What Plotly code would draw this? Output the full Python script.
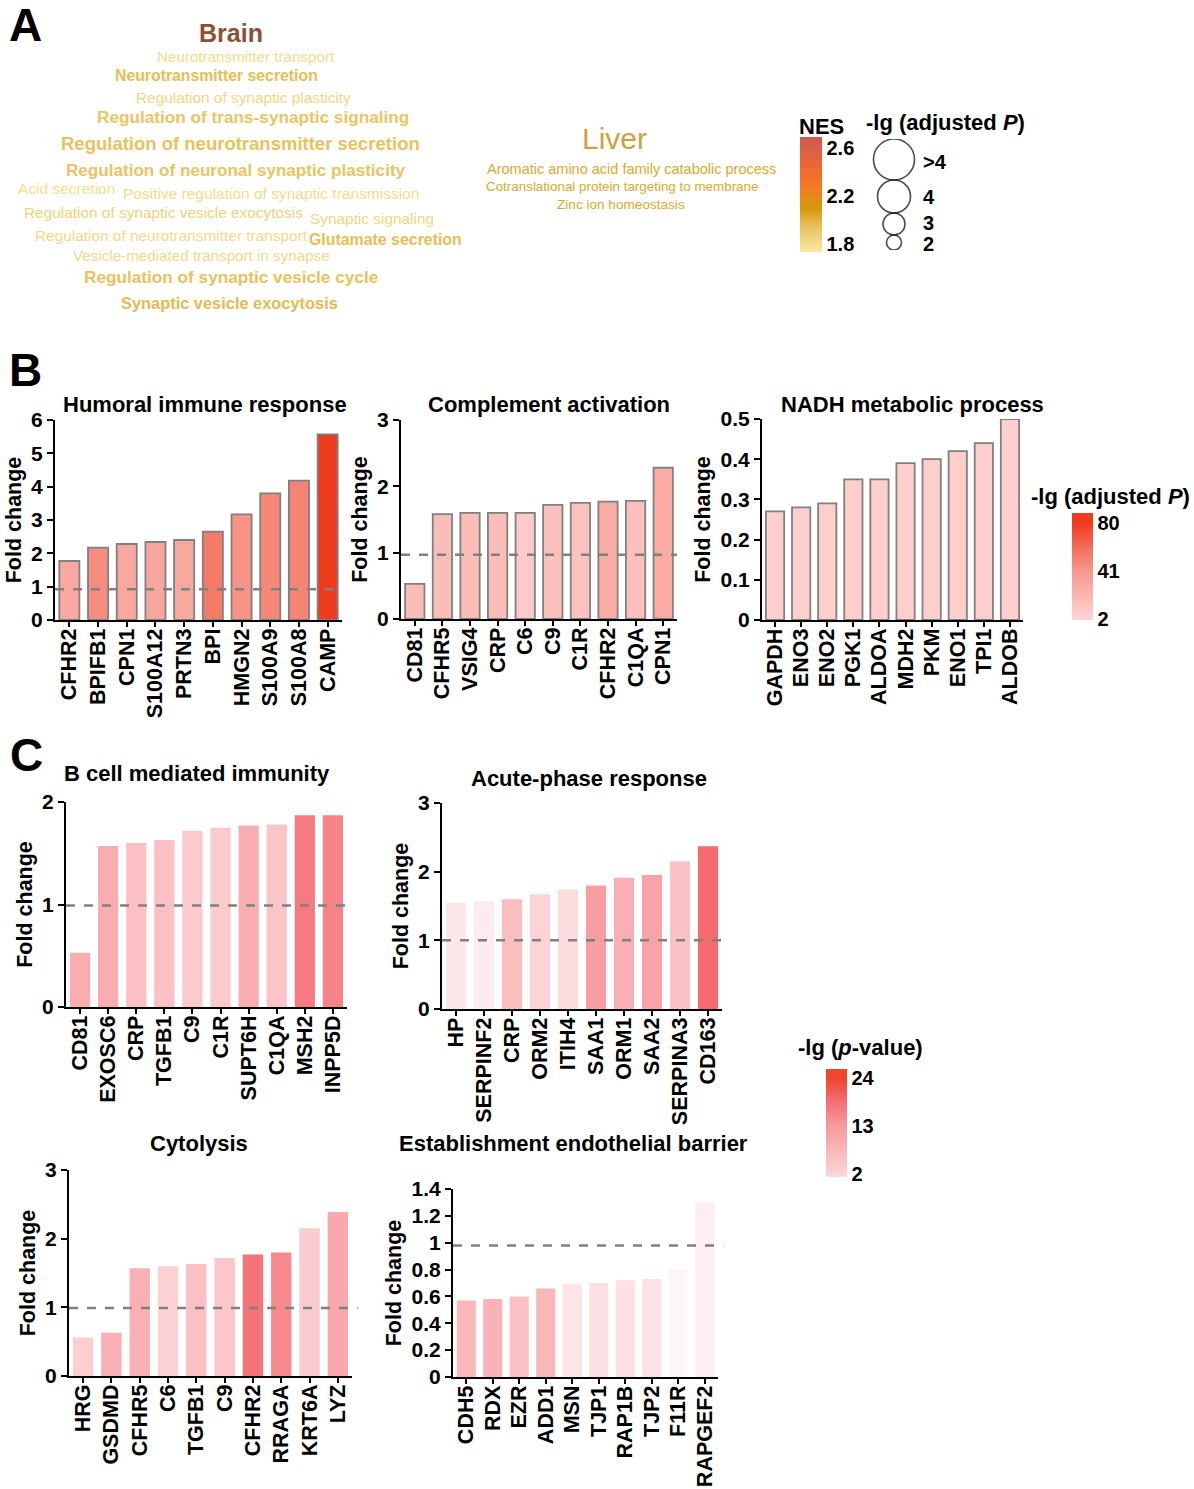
import plotly.graph_objects as go
from plotly.colors import sample_colorscale

W, H = 1194, 1489

# ---------------- data ----------------
brain_terms = [
    "Neurotransmitter transport", "Neurotransmitter secretion",
    "Regulation of synaptic plasticity", "Regulation of trans-synaptic signaling",
    "Regulation of neurotransmitter secretion", "Regulation of neuronal synaptic plasticity",
    "Acid secretion", "Positive regulation of synaptic transmission",
    "Regulation of synaptic vesicle exocytosis", "Synaptic signaling",
    "Regulation of neurotransmitter transport", "Glutamate secretion",
    "Vesicle-mediated transport in synapse", "Regulation of synaptic vesicle cycle",
    "Synaptic vesicle exocytosis",
]
brain_nes = [1.80, 1.96, 1.83, 1.92, 1.94, 1.93, 1.79, 1.80, 1.85, 1.83, 1.81, 1.96, 1.81, 1.94, 1.97]
liver_terms = ["Aromatic amino acid family catabolic process",
               "Cotranslational protein targeting to membrane",
               "Zinc ion homeostasis"]
liver_nes = [2.03, 2.03, 2.03]
nes_ticks = [1.8, 2.2, 2.6]
bubble_labels = [">4", "4", "3", "2"]

b1_genes = ["CFHR2", "BPIFB1", "CPN1", "S100A12", "PRTN3", "BPI", "HMGN2", "S100A9", "S100A8", "CAMP"]
b1_fc = [1.77, 2.17, 2.28, 2.34, 2.40, 2.65, 3.17, 3.80, 4.18, 5.57]
b1_sig = [30, 45, 30, 31, 30, 55, 42, 48, 50, 80]

b2_genes = ["CD81", "CFHR5", "VSIG4", "CRP", "C6", "C9", "C1R", "CFHR2", "C1QA", "CPN1"]
b2_fc = [0.53, 1.58, 1.60, 1.60, 1.60, 1.72, 1.75, 1.77, 1.78, 2.28]
b2_sig = [17, 17, 17, 17, 9, 15, 14, 27, 15, 28]

b3_genes = ["GAPDH", "ENO3", "ENO2", "PGK1", "ALDOA", "MDH2", "PKM", "ENO1", "TPI1", "ALDOB"]
b3_fc = [0.27, 0.28, 0.29, 0.35, 0.35, 0.39, 0.40, 0.42, 0.44, 0.50]
b3_sig = [6, 6, 6, 6, 6, 6, 6, 6, 6, 5]

c1_genes = ["CD81", "EXOSC6", "CRP", "TGFB1", "C9", "C1R", "SUPT6H", "C1QA", "MSH2", "INPP5D"]
c1_fc = [0.53, 1.57, 1.60, 1.63, 1.72, 1.75, 1.77, 1.78, 1.87, 1.87]
c1_sig = [9, 9, 6, 6, 4, 4, 9, 5, 17, 16]

c2_genes = ["HP", "SERPINF2", "CRP", "ORM2", "ITIH4", "SAA1", "ORM1", "SAA2", "SERPINA3", "CD163"]
c2_fc = [1.55, 1.57, 1.60, 1.67, 1.74, 1.80, 1.91, 1.95, 2.15, 2.37]
c2_sig = [0.8, 0.6, 6.5, 2, 1.5, 12, 8.5, 11, 5.5, 19]

c3_genes = ["HRG", "GSDMD", "CFHR5", "C6", "TGFB1", "C9", "CFHR2", "RRAGA", "KRT6A", "LYZ"]
c3_fc = [0.56, 0.63, 1.57, 1.60, 1.63, 1.72, 1.77, 1.80, 2.15, 2.39]
c3_sig = [3, 8.5, 8.5, 2.5, 6, 4.5, 18, 15, 3.5, 10]

c4_genes = ["CDH5", "RDX", "EZR", "ADD1", "MSN", "TJP1", "RAP1B", "TJP2", "F11R", "RAPGEF2"]
c4_fc = [0.57, 0.58, 0.60, 0.66, 0.69, 0.70, 0.72, 0.73, 0.80, 1.30]
c4_sig = [7.5, 8, 6, 7.5, 1, 1.2, 1.2, 1.1, 0.1, 0.5]

ref_levels = [0.92, 0.97, None, 0.99, 1.0, 0.99, 0.98]
b_ticks = [2, 41, 80]
c_ticks = [2, 13, 24]

# ---------------- helpers ----------------
def px(x):
    return x / W

def py(y):
    return 1 - y / H

def hex2rgb(h):
    h = h.lstrip("#")
    return tuple(int(h[i:i + 2], 16) for i in (0, 2, 4))

def interp(stops, v):
    if v <= stops[0][0]:
        return "rgb(%d,%d,%d)" % hex2rgb(stops[0][1])
    if v >= stops[-1][0]:
        return "rgb(%d,%d,%d)" % hex2rgb(stops[-1][1])
    for (v0, c0), (v1, c1) in zip(stops, stops[1:]):
        if v0 <= v <= v1:
            t = (v - v0) / (v1 - v0)
            a, b = hex2rgb(c0), hex2rgb(c1)
            return "rgb(%d,%d,%d)" % tuple(round(a[k] + (b[k] - a[k]) * t) for k in range(3))

def scale_for(stops, vmin, vmax):
    pts = [vmin] + [v for v, _ in stops if vmin < v < vmax] + [vmax]
    return [[(p - vmin) / (vmax - vmin), interp(stops, p)] for p in pts]

B_STOPS = [(2, "#FDD5D5"), (15, "#FBC0BC"), (30, "#F9A8A0"), (41, "#F7958A"), (55, "#F47A68"), (80, "#F03C1E")]
C_STOPS = [(0, "#FBF8FC"), (1, "#FCE4E7"), (2, "#FCD3D6"), (6, "#FAC0C3"), (9, "#F9ADB1"),
           (13, "#F7999D"), (18, "#F5747A"), (24, "#F0442C")]
NES_STOPS = [(1.73, "#FAE8A4"), (1.95, "#E8C05A"), (2.09, "#D4980E"), (2.25, "#EE8020"),
             (2.40, "#F46A30"), (2.69, "#CB5A52")]
NES_MIN, NES_MAX = 1.73, 2.69
nes_scale = scale_for(NES_STOPS, NES_MIN, NES_MAX)

FONT = "Liberation Sans, Arial, sans-serif"

fig = go.Figure()
annotations = []
shapes = []
layout = {}

# ---------------- bar charts ----------------
charts = [
    dict(g=b1_genes, v=b1_fc, s=b1_sig, stops=B_STOPS, lo=2, hi=80, ymax=6, dt=1, box=(55, 342, 420, 620),
         title="Humoral immune response", tpos=(205, 405), outline=True),
    dict(g=b2_genes, v=b2_fc, s=b2_sig, stops=B_STOPS, lo=2, hi=80, ymax=3, dt=1, box=(401, 677, 420, 619),
         title="Complement activation", tpos=(549, 405), outline=True),
    dict(g=b3_genes, v=b3_fc, s=b3_sig, stops=B_STOPS, lo=2, hi=80, ymax=0.5, dt=0.1, box=(762, 1023, 419, 620),
         title="NADH metabolic process", tpos=(912, 405), outline=True),
    dict(g=c1_genes, v=c1_fc, s=c1_sig, stops=C_STOPS, lo=0, hi=24, ymax=2, dt=1, box=(66, 347, 802, 1007),
         title="B cell mediated immunity", tpos=(197, 773), outline=False),
    dict(g=c2_genes, v=c2_fc, s=c2_sig, stops=C_STOPS, lo=0, hi=24, ymax=3, dt=1, box=(442, 722, 803, 1009),
         title="Acute-phase response", tpos=(589, 778), outline=False),
    dict(g=c3_genes, v=c3_fc, s=c3_sig, stops=C_STOPS, lo=0, hi=24, ymax=3, dt=1, box=(69, 352, 1170, 1376),
         title="Cytolysis", tpos=(199, 1143), outline=False),
    dict(g=c4_genes, v=c4_fc, s=c4_sig, stops=C_STOPS, lo=0, hi=24, ymax=1.4001, dt=0.2, box=(453, 718, 1189, 1377),
         title="Establishment endothelial barrier", tpos=(573, 1143), outline=False),
]

for i, ch in enumerate(charts, start=1):
    xr = "x" if i == 1 else f"x{i}"
    yr = "y" if i == 1 else f"y{i}"
    xa = "xaxis" if i == 1 else f"xaxis{i}"
    ya = "yaxis" if i == 1 else f"yaxis{i}"
    line = dict(color="#808080", width=1.8) if ch["outline"] else dict(width=0)
    fig.add_trace(go.Bar(
        x=ch["g"], y=ch["v"], xaxis=xr, yaxis=yr,
        width=0.7 if ch["outline"] else 0.72,
        marker=dict(color=ch["s"], colorscale=scale_for(ch["stops"], ch["lo"], ch["hi"]),
                    cmin=ch["lo"], cmax=ch["hi"], showscale=False, line=line),
        showlegend=False, hoverinfo="skip"))
    x0, x1, yt, yb = ch["box"]
    layout[xa] = dict(domain=[px(x0), px(x1)], anchor=yr, type="category", range=[-0.5, 9.5],
                      tickmode="linear", tick0=0, dtick=1, automargin=False,
                      tickangle=-90, ticks="outside", ticklen=5, tickwidth=2, tickcolor="black",
                      ticklabelstandoff=-7,
                      showline=True, linecolor="black", linewidth=2, showgrid=False, zeroline=False,
                      tickfont=dict(family=FONT, size=21.5, color="black", weight="bold"))
    layout[ya] = dict(domain=[py(yb), py(yt)], anchor=xr, range=[0, ch["ymax"]], dtick=ch["dt"], tick0=0,
                      automargin=False,
                      ticks="outside", ticklen=6, tickwidth=2, tickcolor="black",
                      showline=True, linecolor="black", linewidth=2, showgrid=False, zeroline=False,
                      tickfont=dict(family=FONT, size=21, color="black", weight="bold"),
                      title=dict(text="Fold change", standoff=4,
                                 font=dict(family=FONT, size=21.5, color="black", weight="bold")))
    ref = ref_levels[i - 1]
    if ref is not None:
        shapes.append(dict(type="line", xref=f"{xr} domain", yref=yr, x0=0, x1=1.0 if ch["outline"] else 1.02,
                           y0=ref, y1=ref, line=dict(color="#808080", width=2.5, dash="dash"), layer="above"))
    annotations.append(dict(text=ch["title"], x=px(ch["tpos"][0]), y=py(ch["tpos"][1]), xref="paper", yref="paper",
                            xanchor="center", yanchor="middle", showarrow=False,
                            font=dict(family=FONT, size=22, color="black", weight="bold")))

# ---------------- colorbars ----------------
B_CB = (1.0, 88.0)
C_CB = (1.3, 26.1)
fig.add_trace(go.Scatter(x=[None], y=[None], xaxis="x8", yaxis="y8", mode="markers", showlegend=False,
    marker=dict(color=[B_CB[0]], colorscale=scale_for(B_STOPS, *B_CB), cmin=B_CB[0], cmax=B_CB[1], showscale=True,
                colorbar=dict(x=px(1072), xanchor="left", y=py(513), yanchor="top", len=107, lenmode="pixels",
                              thickness=21, thicknessmode="pixels", outlinewidth=0, xpad=0, ypad=0, ticks="",
                              tickvals=b_ticks, tickfont=dict(family=FONT, size=20, color="black", weight="bold")))))
fig.add_trace(go.Scatter(x=[None], y=[None], xaxis="x8", yaxis="y8", mode="markers", showlegend=False,
    marker=dict(color=[C_CB[0]], colorscale=scale_for(C_STOPS, *C_CB), cmin=C_CB[0], cmax=C_CB[1], showscale=True,
                colorbar=dict(x=px(826), xanchor="left", y=py(1069), yanchor="top", len=108, lenmode="pixels",
                              thickness=21, thicknessmode="pixels", outlinewidth=0, xpad=0, ypad=0, ticks="",
                              tickvals=c_ticks, tickfont=dict(family=FONT, size=20, color="black", weight="bold")))))
fig.add_trace(go.Scatter(x=[None], y=[None], xaxis="x8", yaxis="y8", mode="markers", showlegend=False,
    marker=dict(color=[NES_MIN], colorscale=nes_scale, cmin=NES_MIN, cmax=NES_MAX, showscale=True,
                colorbar=dict(x=px(800), xanchor="left", y=py(137), yanchor="top", len=115, lenmode="pixels",
                              thickness=22, thicknessmode="pixels", outlinewidth=0, xpad=0, ypad=0, ticks="",
                              tickvals=nes_ticks, tickformat=".1f",
                              tickfont=dict(family=FONT, size=20, color="black", weight="bold")))))

cb_titles = [
    dict(text="-lg (adjusted <i>P</i>)", x=px(1110), y=py(496)),
    dict(text="-lg (<i>p</i>-value)", x=px(860), y=py(1047)),
    dict(text="NES", x=px(821), y=py(126)),
    dict(text="-lg (adjusted <i>P</i>)", x=px(946), y=py(123)),
]
for a in cb_titles:
    a.update(xref="paper", yref="paper", xanchor="center", yanchor="middle", showarrow=False,
             font=dict(family=FONT, size=22, color="black", weight="bold"))
annotations += cb_titles

# ---------------- bubble legend ----------------
bubble_d = [41, 33, 22, 15]
centers, acc = [], 0
for d in bubble_d:
    centers.append(acc + d / 2)
    acc += d
label_dy = [2, 0, -2, 1]
fig.add_trace(go.Scatter(x=[0] * len(bubble_d), y=centers, xaxis="x9", yaxis="y9", mode="markers",
                         showlegend=False, hoverinfo="skip",
                         marker=dict(size=bubble_d, color="rgba(0,0,0,0)", line=dict(color="black", width=1.6))))
for lab, c, dy in zip(bubble_labels, centers, label_dy):
    annotations.append(dict(text=lab, x=27, y=c + dy, xref="x9", yref="y9", xanchor="left", yanchor="middle",
                            showarrow=False, height=17,
                            font=dict(family=FONT, size=20, color="black", weight="bold")))
layout["xaxis8"] = dict(domain=[0, 0.01], range=[0, 1], visible=False, anchor="y8", automargin=False)
layout["yaxis8"] = dict(domain=[0, 0.01], range=[0, 1], visible=False, anchor="x8", automargin=False)
layout["xaxis9"] = dict(domain=[px(860), px(930)], range=[-34, 36], visible=False, anchor="y9", automargin=False)
layout["yaxis9"] = dict(domain=[py(250), py(139)], range=[111, 0], visible=False, anchor="x9", automargin=False)

# ---------------- word clouds ----------------
brain_pos = [(246, 56), (216, 76), (244, 97), (253, 117), (240, 143), (236, 170), (66, 189), (271, 193),
             (163, 213), (372, 219), (171, 235), (385, 240), (201, 255), (231, 277), (229, 303)]
brain_fs = [15.2, 15.8, 15.4, 17.2, 18.5, 17.1, 15.5, 15.5, 15.4, 15.4, 15.4, 15.9, 15.2, 17.2, 16.4]
brain_bold = [False, True, False, True, True, True, False, False, False, False, False, True, False, True, True]
brain_cols = sample_colorscale(nes_scale, [(v - NES_MIN) / (NES_MAX - NES_MIN) for v in brain_nes])
for t, (x, y), fs, b, c in zip(brain_terms, brain_pos, brain_fs, brain_bold, brain_cols):
    annotations.append(dict(text=t, x=px(x), y=py(y), xref="paper", yref="paper", xanchor="center",
                            yanchor="middle", showarrow=False,
                            font=dict(family=FONT, size=fs, color=c, weight="bold" if b else "normal")))
annotations.append(dict(text="Brain", x=px(231), y=py(33), xref="paper", yref="paper", showarrow=False,
                        xanchor="center", yanchor="middle",
                        font=dict(family=FONT, size=25, color="#8E4F34", weight="bold")))
liver_pos = [(631, 169), (622, 187), (621, 205)]
liver_fs = [14.5, 13.4, 13.6]
liver_cols = sample_colorscale(nes_scale, [(v - NES_MIN) / (NES_MAX - NES_MIN) for v in liver_nes])
for t, (x, y), fs, c in zip(liver_terms, liver_pos, liver_fs, liver_cols):
    annotations.append(dict(text=t, x=px(x), y=py(y), xref="paper", yref="paper", xanchor="center",
                            yanchor="middle", showarrow=False, font=dict(family=FONT, size=fs, color=c)))
annotations.append(dict(text="Liver", x=px(614), y=py(138), xref="paper", yref="paper", showarrow=False,
                        xanchor="center", yanchor="middle",
                        font=dict(family=FONT, size=30, color="#CFA03E")))

# ---------------- panel letters ----------------
for lab, (x, y) in zip(["A", "B", "C"], [(25, 25), (25, 370), (26, 755)]):
    annotations.append(dict(text=lab, x=px(x), y=py(y), xref="paper", yref="paper", showarrow=False,
                            xanchor="center", yanchor="middle",
                            font=dict(family=FONT, size=46, color="black", weight="bold")))

fig.update_layout(width=W, height=H, margin=dict(l=0, r=0, t=0, b=0, autoexpand=False), paper_bgcolor="white",
                  plot_bgcolor="rgba(0,0,0,0)", annotations=annotations, shapes=shapes, **layout)
fig.write_html("out.html", config={"displayModeBar": False},
               post_script="document.body.style.margin='0px';")
